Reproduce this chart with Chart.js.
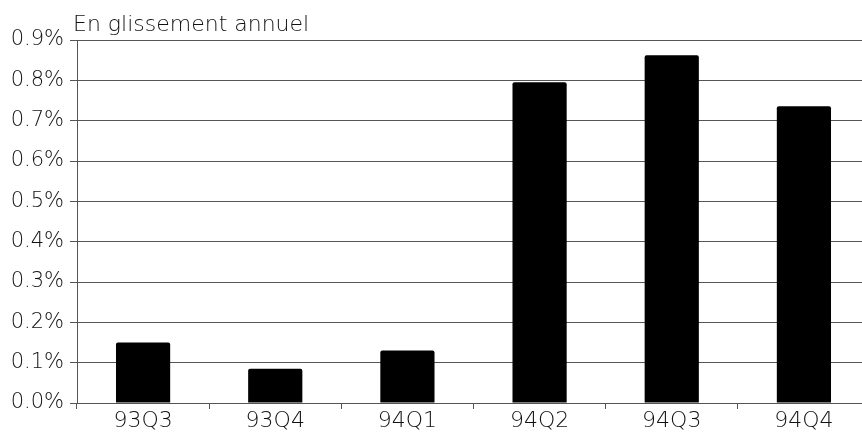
<!DOCTYPE html>
<html>
<head>
<meta charset="utf-8">
<script src="https://cdn.jsdelivr.net/npm/chart.js@4/dist/chart.umd.min.js"></script>
<style>
  html, body { margin: 0; padding: 0; background: #fff; overflow: hidden; }
  #wrap { width: 870px; height: 432px; }
</style>
</head>
<body>
<div id="wrap"><canvas id="c" width="870" height="432"></canvas></div>
<script>
// Quarterly year-on-year change, in percent
const quarters = ['93Q3', '93Q4', '94Q1', '94Q2', '94Q3', '94Q4'];
const yoyChange = [0.15, 0.085, 0.13, 0.795, 0.862, 0.736];
const yTicks = [0, 0.1, 0.2, 0.3, 0.4, 0.5, 0.6, 0.7, 0.8, 0.9];
const heading = 'En glissement annuel';

const ink = '#111';
const rule = '#555';
const family = '"DejaVu Sans", "Liberation Sans", Arial, sans-serif';

// Heading placed just above the top-left corner of the plot
const headingPlugin = {
  id: 'heading',
  afterDraw(chart) {
    const { ctx, chartArea } = chart;
    ctx.save();
    ctx.fillStyle = ink;
    ctx.font = '300 22px ' + family;
    ctx.textAlign = 'left';
    ctx.textBaseline = 'alphabetic';
    ctx.fillText(heading, chartArea.left - 4, 31);
    ctx.restore();
  }
};

new Chart(document.getElementById('c'), {
  type: 'bar',
  data: {
    labels: quarters,
    datasets: [{
      data: yoyChange,
      backgroundColor: '#000',
      borderWidth: 0,
      borderRadius: 2,
      categoryPercentage: 1,
      barPercentage: 0.41
    }]
  },
  options: {
    responsive: false,
    animation: false,
    layout: { padding: { top: 40, right: 0, bottom: 0, left: 0 } },
    plugins: { legend: { display: false }, tooltip: { enabled: false } },
    scales: {
      x: {
        grid: { display: true, drawOnChartArea: false, color: rule, tickLength: 6, offset: true },
        border: { color: rule, width: 1 },
        ticks: { color: ink, font: { family, size: 22, weight: 300 }, padding: -1, maxRotation: 0 },
        afterFit(scale) { scale.height = 29; }
      },
      y: {
        min: 0,
        max: 0.9,
        afterBuildTicks(scale) { scale.ticks = yTicks.map(v => ({ value: v })); },
        grid: { color: rule, lineWidth: 1, tickLength: 7 },
        border: { color: rule, width: 1 },
        ticks: {
          color: ink, font: { family, size: 21, weight: 300 }, padding: 6,
          callback: v => v.toFixed(1) + '%'
        },
        afterFit(scale) { scale.width = 77; }
      }
    }
  },
  plugins: [headingPlugin]
});
</script>
</body>
</html>
